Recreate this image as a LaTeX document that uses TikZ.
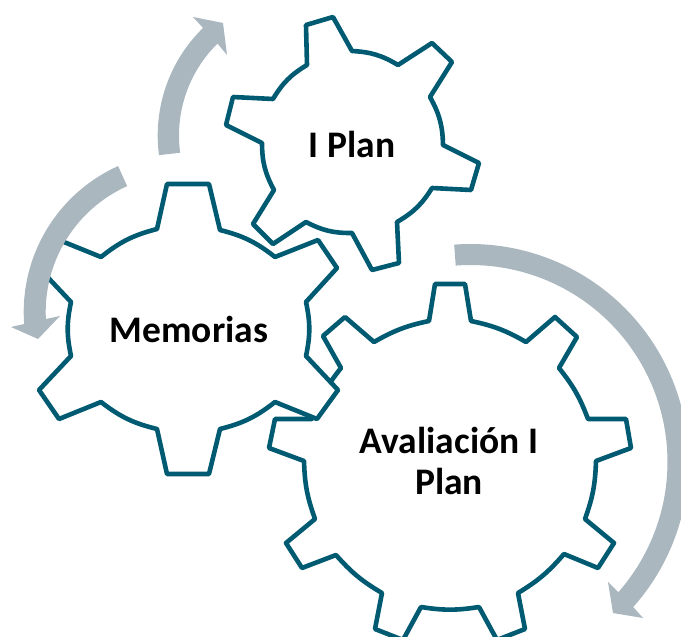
\documentclass[tikz,border=0pt]{standalone}
\usepackage{fontspec}
\setmainfont{Carlito}
\definecolor{gearline}{HTML}{005A72}
\definecolor{flow}{HTML}{AAB7BF}
\tikzset{
  gear/.style={draw=gearline,fill=white,line width=4.6pt,line join=round},
  flowarrow/.style={fill=flow,draw=none},
  label/.style={font=\fontsize{37.5}{41}\selectfont\bfseries,text=black,align=center,inner sep=0pt},
  gap/.style={bend left=#1}
}
\begin{document}
\begin{tikzpicture}[x=1pt,y=-1pt]
\useasboundingbox (0,0) rectangle (681,637);
\clip (0,0) rectangle (681,637);
% Avaliacion gear
\draw[gear] (429,321) -- (435,284) -- (465,284) -- (471,321)
  to[gap=9] (526,342) -- (555,317) -- (577,337) -- (559,368)
  to[gap=9] (588,419) -- (626,419) -- (631,448) -- (596,461)
  to[gap=9] (585,519) -- (614,543) -- (598,568) -- (564,554)
  to[gap=9] (518,593) -- (525,629) -- (497,640) -- (479,607)
  to[gap=9] (421,607) -- (403,640) -- (375,629) -- (382,593)
  to[gap=9] (336,555) -- (302,568) -- (286,543) -- (315,519)
  to[gap=9] (304,461) -- (269,448) -- (275,419) -- (312,419)
  to[gap=9] (341,368) -- (323,336) -- (345,317) -- (374,342)
  to[gap=9] cycle;
% I Plan gear
\draw[gear] (307,65) -- (306,25) -- (333,17) -- (352,51)
  to[gap=14] (398,65) -- (432,43) -- (452,62) -- (430,97)
  to[gap=14] (443,145) -- (479,163) -- (471,190) -- (432,188)
  to[gap=14] (397,222) -- (399,263) -- (372,270) -- (352,233)
  to[gap=14] (306,222) -- (273,244) -- (253,224) -- (274,190)
  to[gap=14] (262,143) -- (226,125) -- (233,97) -- (273,99)
  to[gap=14] cycle;
% Memorias gear
\draw[gear] (157,229) -- (167,184) -- (209,184) -- (220,230)
  to[gap=12] (275,257) -- (318,240) -- (337,268) -- (306,302)
  to[gap=12] (306,356) -- (338,390) -- (317,419) -- (275,402)
  to[gap=12] (220,429) -- (209,474) -- (167,474) -- (157,429)
  to[gap=12] (101,402) -- (59,419) -- (39,390) -- (71,356)
  to[gap=12] (71,302) -- (39,268) -- (59,240) -- (101,257)
  to[gap=12] cycle;
% circular arrows
\fill[flowarrow] plot[domain=172.5:225.7,samples=40] ({308+150.3*cos(\x)},{135.5+150.3*sin(\x)})
  -- (193,17) -- (223,23) -- (227,55) -- (217,43)
  -- plot[domain=225.5:172.3,samples=40] ({308+129*cos(\x)},{135.5+129*sin(\x)}) -- cycle;
\fill[flowarrow] plot[domain=245.8:175.7,samples=40] ({183.7+160*cos(\x)},{312+160*sin(\x)})
  -- (11,327) -- (38,339) -- (60,316) -- (46,319)
  -- plot[domain=177:245.8,samples=40] ({183.7+138*cos(\x)},{312+138*sin(\x)}) -- cycle;
\fill[flowarrow] plot[domain=-94.3:41.7,samples=80] ({470.5+218*cos(\x)},{462+218*sin(\x)})
  -- (643,618) -- (613,613) -- (608,582) -- (618,592)
  -- plot[domain=41.3:-94.3,samples=80] ({470.5+197*cos(\x)},{462+197*sin(\x)}) -- cycle;
% labels
\node[label] (plan) at (352,144) {I Plan};
\node[label] (memorias) at (189,329) {Memorias};
\node[label] (avaliacao) at (449,461) {Avaliación I\\Plan};
\end{tikzpicture}
\end{document}
